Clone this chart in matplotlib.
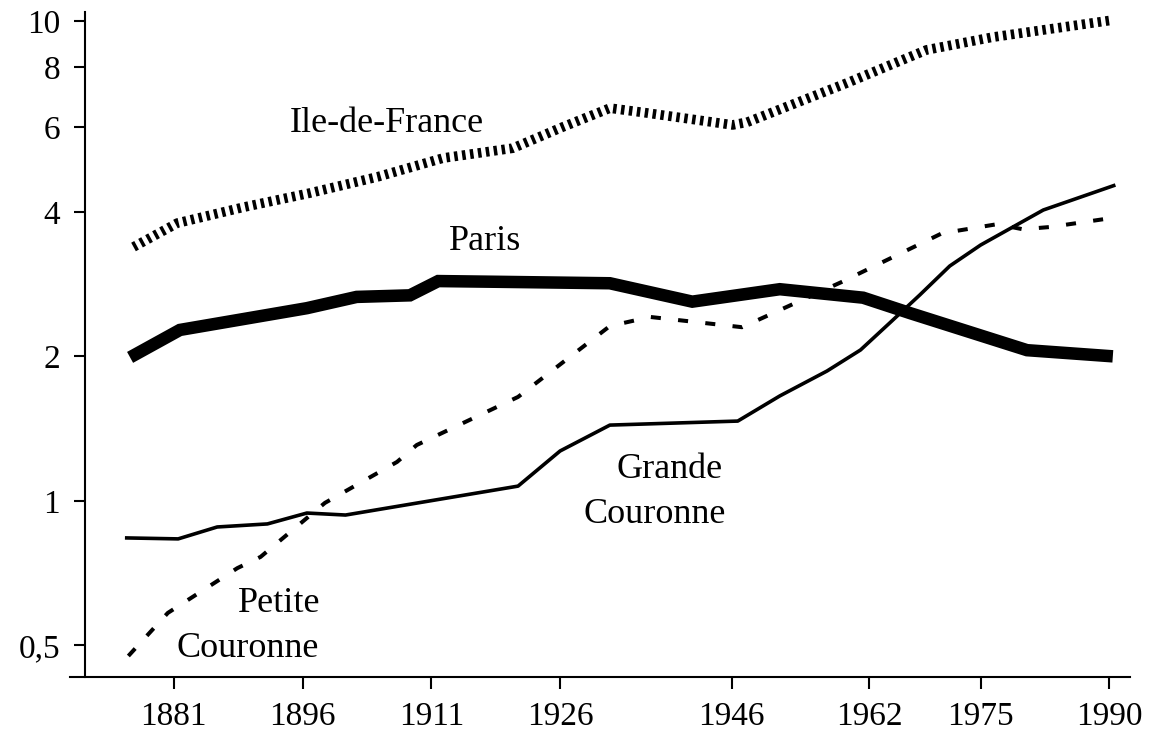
import matplotlib
matplotlib.use("Agg")
import matplotlib.pyplot as plt
from matplotlib.ticker import FixedLocator, NullLocator

# ---- data (population, millions) ----
idf_years = [1876.3, 1881.4, 1889.1, 1896.9, 1904.7, 1912.4, 1920.5, 1926.3,
             1931.8, 1936.1, 1946.1, 1947.8, 1959.4, 1968.7, 1976.4, 1990.4]
idf_vals = [3.38, 3.79, 4.09, 4.38, 4.73, 5.18, 5.43, 6.01,
            6.58, 6.43, 6.07, 6.15, 7.42, 8.70, 9.25, 10.04]

paris_years = [1875.9, 1881.7, 1896.5, 1902.3, 1908.5, 1911.8, 1918.7, 1931.8,
               1941.4, 1951.6, 1961.3, 1966.8, 1980.4, 1990.4]
paris_vals = [1.99, 2.27, 2.52, 2.66, 2.68, 2.87, 2.86, 2.84,
              2.60, 2.76, 2.65, 2.46, 2.06, 2.00]

pc_years = [1875.7, 1880.3, 1888.4, 1891.1, 1898.6, 1907.0, 1909.3, 1921.1,
            1931.8, 1936.5, 1947.2, 1958.8, 1970.5, 1976.9, 1979.9, 1983.1, 1990.1]
pc_vals = [0.475, 0.584, 0.724, 0.764, 0.99, 1.205, 1.307, 1.646,
           2.313, 2.416, 2.30, 2.857, 3.61, 3.77, 3.68, 3.72, 3.88]

gc_years = [1875.3, 1881.5, 1886.05, 1891.9, 1896.5, 1901.0, 1921.1, 1926.0,
            1931.8, 1946.7, 1951.6, 1957.1, 1961.0, 1964.4, 1967.9, 1971.4,
            1975.0, 1982.3, 1990.7]
gc_vals = [0.837, 0.833, 0.882, 0.895, 0.943, 0.934, 1.073, 1.27,
           1.438, 1.466, 1.654, 1.864, 2.062, 2.347, 2.684, 3.085,
           3.412, 4.036, 4.55]

x_ticks = [1881, 1896, 1911, 1926, 1946, 1962, 1975, 1990]
y_ticks = [0.5, 1, 2, 4, 6, 8, 10]
y_ticklabels = ["0,5", "1", "2", "4", "6", "8", "10"]

# ---- figure ----
plt.rcParams["font.family"] = ["Liberation Serif", "DejaVu Serif"]
fig = plt.figure(figsize=(11.57, 7.46), dpi=100)
ax = fig.add_axes([70 / 1157, 69 / 746, 1060 / 1157, 665 / 746])

ax.set_yscale("log")
ax.set_xlim(1868.9, 1992.4)
ax.set_ylim(0.4294, 10.436)

ax.plot(idf_years, idf_vals, color="black", lw=7.0,
        linestyle=(0, (0.36, 0.46)), dash_capstyle="butt")
ax.plot(paris_years, paris_vals, color="black", lw=9,
        solid_capstyle="butt", solid_joinstyle="miter")
ax.plot(pc_years, pc_vals, color="black", lw=2.9,
        linestyle=(0, (2.5, 4.3)), dash_capstyle="butt")
ax.plot(gc_years, gc_vals, color="black", lw=2.6, solid_capstyle="butt")

# spines
for s in ("top", "right"):
    ax.spines[s].set_visible(False)
ax.spines["left"].set_position(("data", 1870.65))
ax.spines["left"].set_linewidth(1.5)
ax.spines["bottom"].set_linewidth(1.5)

ax.yaxis.set_major_locator(FixedLocator(y_ticks))
ax.yaxis.set_minor_locator(NullLocator())
ax.set_yticklabels(y_ticklabels)
ax.xaxis.set_major_locator(FixedLocator(x_ticks))
ax.set_xticklabels([str(y) for y in x_ticks])

ax.tick_params(axis="y", direction="out", length=8, width=1.5,
               labelsize=24, pad=10)
ax.tick_params(axis="x", direction="out", length=8.6, width=1.5,
               labelsize=24, pad=9)

# labels
fs = 26
ax.text(1905.77, 5.868, "Ile-de-France", ha="center", va="baseline", fontsize=fs)
ax.text(1917.27, 3.331, "Paris", ha="center", va="baseline", fontsize=fs)
ax.text(1938.74, 1.114, "Grande", ha="center", va="baseline", fontsize=fs)
ax.text(1937.06, 0.898, "Couronne", ha="center", va="baseline", fontsize=fs)
ax.text(1893.25, 0.5877, "Petite", ha="center", va="baseline", fontsize=fs)
ax.text(1889.58, 0.4733, "Couronne", ha="center", va="baseline", fontsize=fs)

fig.savefig("out.png", dpi=100)
